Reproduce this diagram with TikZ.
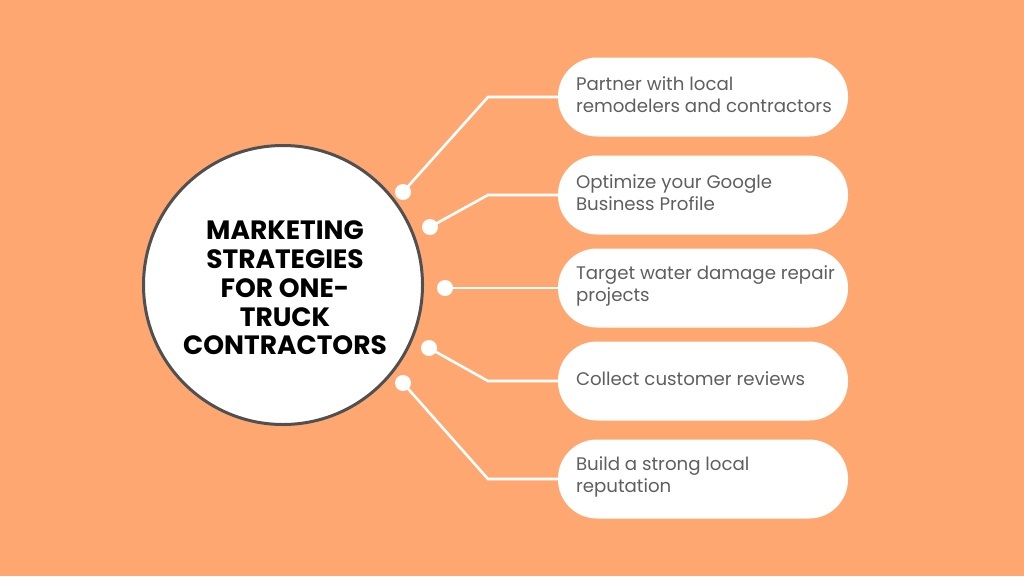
\documentclass[tikz,border=0pt]{standalone}
\usepackage{fontspec}
\setmainfont{Poppins}
\definecolor{bgorange}{RGB}{255, 167, 112}
\definecolor{pilltext}{RGB}{95, 95, 95}
\definecolor{ringgray}{RGB}{80, 80, 80}
\usetikzlibrary{shapes.misc, positioning}
\tikzset{
  pillbox/.style={rectangle, rounded corners=39pt, fill=white, minimum width=290pt,
    minimum height=79pt, inner sep=0pt},
  pilllabel/.style={inner sep=0pt, align=left, text=pilltext, yshift=2pt,
    font=\fontsize{18.2}{22}\selectfont},
  dotnode/.style={circle, fill=white, minimum size=16pt, inner sep=0pt},
  link/.style={draw=white, line width=2.6pt}
}

\begin{document}
\begin{tikzpicture}[x=1pt, y=-1pt]
                    % Background
                    \fill[bgorange] (0, 0) rectangle (1024, 576);
                    \useasboundingbox (0, 0) rectangle (1024, 576);

                    % Centre circle
                    \node[circle, draw=ringgray, line width=3pt, fill=white, minimum size=279pt]
                          (hub) at (283, 285) {};
                    \node[align=center, font=\fontsize{26.5}{28.8}\selectfont\bfseries]
                          (title) at (285, 288) {MARKETING\\STRATEGIES\\FOR ONE-\\TRUCK\\CONTRACTORS};

                    % Strategies
                    \node[pillbox] (p1) at (703, 97) {};
                    \node[pillbox] (p2) at (703, 195) {};
                    \node[pillbox] (p3) at (703, 288) {};
                    \node[pillbox] (p4) at (703, 381) {};
                    \node[pillbox] (p5) at (703, 479) {};

                    \node[pilllabel, right=18pt of p1.west] (t1) {Partner with local\\remodelers and contractors};
                    \node[pilllabel, right=18pt of p2.west] (t2) {Optimize your Google\\Business Profile};
                    \node[pilllabel, right=18pt of p3.west] (t3) {Target water damage repair\\projects};
                    \node[pilllabel, right=18pt of p4.west] (t4) {Collect customer reviews};
                    \node[pilllabel, right=18pt of p5.west] (t5) {Build a strong local\\reputation};

                    % Dots
                    \node[dotnode] (d1) at (403, 192) {};
                    \node[dotnode] (d2) at (430, 227) {};
                    \node[dotnode] (d3) at (445, 288) {};
                    \node[dotnode] (d4) at (429, 348) {};
                    \node[dotnode] (d5) at (403, 383) {};

                    % Elbows
                    \coordinate (e1) at (488, 97);
                    \coordinate (e2) at (488, 195);
                    \coordinate (e4) at (488, 381);
                    \coordinate (e5) at (488, 479);

                    % Links
                    \draw[link] (d1.center) -- (e1) -- (p1.west);
                    \draw[link] (d2.center) -- (e2) -- (p2.west);
                    \draw[link] (d3.center) -- (p3.west);
                    \draw[link] (d4.center) -- (e4) -- (p4.west);
                    \draw[link] (d5.center) -- (e5) -- (p5.west);
                \end{tikzpicture}
\end{document}
